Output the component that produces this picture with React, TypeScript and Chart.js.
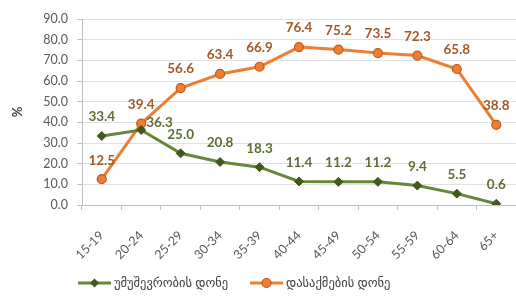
import React, { useEffect, useRef } from "react";
import { Chart, registerables } from "chart.js";

Chart.register(...registerables);

const categories = ["15-19", "20-24", "25-29", "30-34", "35-39", "40-44", "45-49", "50-54", "55-59", "60-64", "65+"];
const unemployment = [33.4, 36.3, 25.0, 20.8, 18.3, 11.4, 11.2, 11.2, 9.4, 5.5, 0.6];
const employment = [12.5, 39.4, 56.6, 63.4, 66.9, 76.4, 75.2, 73.5, 72.3, 65.8, 38.8];
const seriesNames = ["უმუშევრობის დონე", "დასაქმების დონე"];
const yAxisTitle = "%";

const GREEN = "#67863a";
const GREEN_DARK = "#3e5a1e";
const GREEN_LABEL = "#5b6f35";
const ORANGE = "#ec7f34";
const ORANGE_DARK = "#c05a18";
const ORANGE_LABEL = "#a35a28";
const FONT = "Lato, 'DejaVu Sans', sans-serif";

// label placement per series: 'top' or 'right'
const greenAnchor = ["top", "right", "top", "top", "top", "top", "top", "top", "top", "top", "top"];
const orangeAnchor = ["top", "top", "top", "top", "top", "top", "top", "top", "top", "top", "top"];

const labelPlugin = {
  id: "valueLabels",
  afterDatasetsDraw(chart: any) {
    const ctx = chart.ctx;
    ctx.save();
    ctx.font = `bold 13.5px ${FONT}`;
    ctx.textBaseline = "middle";
    chart.data.datasets.forEach((ds: any, di: number) => {
      const meta = chart.getDatasetMeta(di);
      const anchors = di === 0 ? greenAnchor : orangeAnchor;
      ctx.fillStyle = di === 0 ? GREEN_LABEL : ORANGE_LABEL;
      meta.data.forEach((pt: any, i: number) => {
        const txt = ds.data[i].toFixed(1);
        if (anchors[i] === "right") {
          ctx.textAlign = "left";
          ctx.fillText(txt, pt.x + 5, pt.y - 7);
        } else {
          ctx.textAlign = "center";
          ctx.fillText(txt, pt.x, pt.y - 19);
        }
      });
    });
    ctx.restore();
  },
};

const legendPlugin = {
  id: "customLegend",
  afterDraw(chart: any) {
    const ctx = chart.ctx;
    const y = 283;
    const items = [
      { x: 78, color: GREEN, dark: GREEN_DARK, shape: "diamond", text: seriesNames[0] },
      { x: 250, color: ORANGE, dark: ORANGE_DARK, shape: "circle", text: seriesNames[1] },
    ];
    ctx.save();
    items.forEach((it) => {
      ctx.strokeStyle = it.color;
      ctx.lineWidth = 3;
      ctx.beginPath();
      ctx.moveTo(it.x, y);
      ctx.lineTo(it.x + 33, y);
      ctx.stroke();
      const cx = it.x + 16.5;
      if (it.shape === "diamond") {
        ctx.fillStyle = it.dark;
        ctx.beginPath();
        ctx.moveTo(cx, y - 4.5);
        ctx.lineTo(cx + 4.5, y);
        ctx.lineTo(cx, y + 4.5);
        ctx.lineTo(cx - 4.5, y);
        ctx.closePath();
        ctx.fill();
      } else {
        ctx.fillStyle = it.color;
        ctx.strokeStyle = it.dark;
        ctx.lineWidth = 1.2;
        ctx.beginPath();
        ctx.arc(cx, y, 4.5, 0, Math.PI * 2);
        ctx.fill();
        ctx.stroke();
      }
      ctx.fillStyle = "#404040";
      ctx.font = `12.5px ${FONT}`;
      ctx.textAlign = "left";
      ctx.textBaseline = "middle";
      ctx.fillText(it.text, it.x + 36, y);
    });
    ctx.restore();
  },
};

export default function App() {
  const ref = useRef<HTMLCanvasElement | null>(null);
  useEffect(() => {
    document.body.style.margin = "0";
    const chart = new Chart(ref.current as HTMLCanvasElement, {
      type: "line",
      data: {
        labels: categories,
        datasets: [
          {
            label: seriesNames[0],
            data: unemployment,
            borderColor: GREEN,
            borderWidth: 3,
            pointStyle: "rectRot",
            pointRadius: 4.5,
            pointBackgroundColor: GREEN_DARK,
            pointBorderColor: GREEN_DARK,
            pointBorderWidth: 1,
            tension: 0,
          },
          {
            label: seriesNames[1],
            data: employment,
            borderColor: ORANGE,
            borderWidth: 3,
            pointStyle: "circle",
            pointRadius: 4.5,
            pointBackgroundColor: ORANGE,
            pointBorderColor: ORANGE_DARK,
            pointBorderWidth: 1.2,
            tension: 0,
          },
        ],
      },
      options: {
        animation: false,
        responsive: false,
        layout: { autoPadding: false, padding: { top: 19, right: 0, bottom: 0, left: 0 } },
        plugins: { legend: { display: false }, tooltip: { enabled: false } },
        scales: {
          x: {
            offset: true,
            grid: { display: true, drawOnChartArea: false, drawTicks: true, tickLength: 5, color: "#bfbfbf", offset: true },
            border: { color: "#bfbfbf" },
            ticks: { color: "#595959", font: { family: FONT, size: 12.5 }, minRotation: 45, maxRotation: 45, padding: 18, autoSkip: false },
            afterFit: (s: any) => { s.height = 99; s.paddingRight = 0; s.paddingLeft = 0; },
          },
          y: {
            min: 0,
            max: 90,
            ticks: { stepSize: 10, color: "#595959", font: { family: FONT, size: 12.5 }, padding: 9, callback: (v: any) => Number(v).toFixed(1) },
            grid: { color: "#e0e0e0", tickLength: 5, tickColor: "#bfbfbf" },
            border: { color: "#bfbfbf" },
            title: { display: true, text: yAxisTitle, color: "#404040", font: { family: FONT, size: 13, weight: "bold" }, padding: { top: 10, bottom: 0 } },
            afterFit: (s: any) => { s.width = 82; },
          },
        },
      },
      plugins: [labelPlugin, legendPlugin],
    });
    return () => chart.destroy();
  }, []);
  return <canvas ref={ref} width={516} height={304} />;
}
